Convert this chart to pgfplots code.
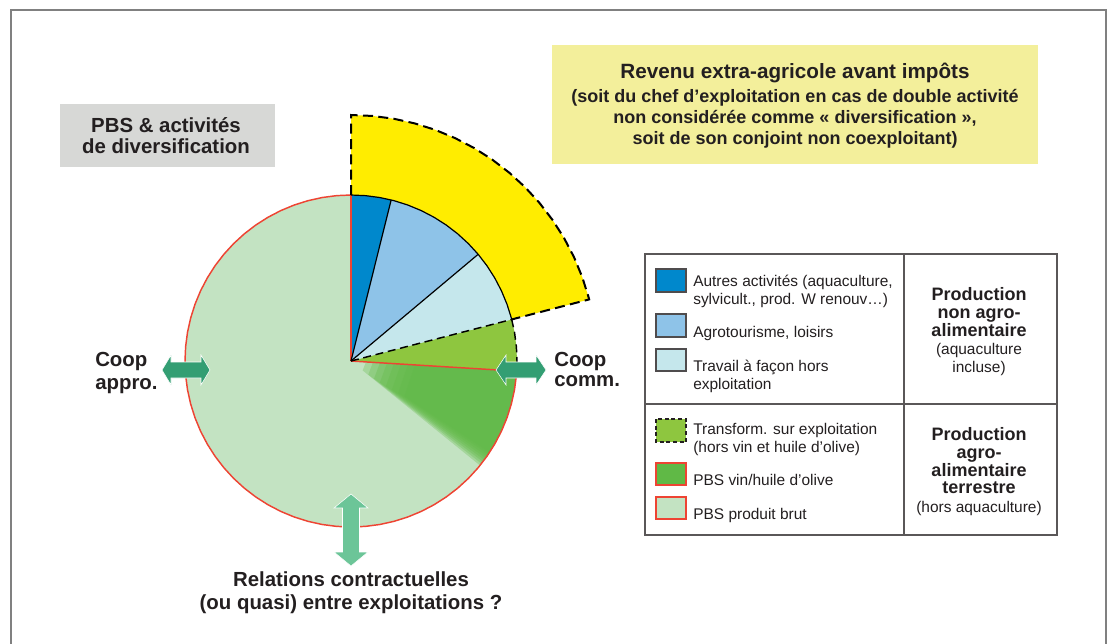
\documentclass[border=0pt]{standalone}
\usepackage{fontspec}
\setmainfont{Liberation Sans}
\usepackage{pgfplots}
\pgfplotsset{compat=1.18}
\definecolor{Ink}{HTML}{231F20}
\definecolor{Yel}{HTML}{FFED00}
\definecolor{YelBox}{HTML}{F3EF9B}
\definecolor{GrayBox}{HTML}{D7D8D6}
\definecolor{DBlue}{HTML}{0088CC}
\definecolor{LBlue}{HTML}{8EC3E8}
\definecolor{PBlue}{HTML}{C5E7EC}
\definecolor{TGreen}{HTML}{8EC63F}
\definecolor{DGreen}{HTML}{60B946}
\definecolor{PGreen}{HTML}{C3E3C2}
\definecolor{PRed}{HTML}{EE4433}
\definecolor{ArrowA}{HTML}{339E73}
\definecolor{ArrowB}{HTML}{6CC598}
\definecolor{Frame}{HTML}{808080}

\begin{document}
\begin{tikzpicture}
\begin{scope}[x=0.75pt,y=-0.75pt]
  \useasboundingbox (0,0) rectangle (1112,643);
  % frame
  \draw[Frame,line width=1.5pt] (11,645) -- (11,10) -- (1106,10) -- (1106,645);
  % title boxes
  \fill[GrayBox] (60,104) rectangle (275,167);
  \fill[YelBox] (552,45) rectangle (1038,164);
  \node[anchor=base,inner sep=0pt,text=Ink,font=\fontsize{15.3pt}{17pt}\selectfont\bfseries] at (166,132) {PBS \& activités};
  \node[anchor=base,inner sep=0pt,text=Ink,font=\fontsize{15.3pt}{17pt}\selectfont\bfseries] at (166,153) {de diversification};
  \node[anchor=base,inner sep=0pt,text=Ink,font=\fontsize{15.5pt}{17pt}\selectfont\bfseries] at (795,78) {Revenu extra-agricole avant impôts};
  \node[anchor=base,inner sep=0pt,text=Ink,font=\fontsize{13.5pt}{16pt}\selectfont\bfseries] at (795,102) {(soit du chef d’exploitation en cas de double activité};
  \node[anchor=base,inner sep=0pt,text=Ink,font=\fontsize{13.5pt}{16pt}\selectfont\bfseries] at (795,123) {non considérée comme « diversification »,};
  \node[anchor=base,inner sep=0pt,text=Ink,font=\fontsize{13.5pt}{16pt}\selectfont\bfseries] at (795,144) {soit de son conjoint non coexploitant)};
\end{scope}

\begin{axis}[at={(263.25pt,-270.75pt)},anchor=origin,
  x=0.75pt,y=0.75pt,xmin=-260,xmax=260,ymin=-260,ymax=260,
  hide axis,clip=false,data cs=polar]
% revenu extra-agricole (yellow sector)
\addplot[fill=Yel,draw=none] coordinates {(0,0) (90,246) (85,246) (80,246) (75,246) (70,246) (65,246) (60,246) (55,246) (50,246) (45,246) (40,246) (35,246) (30,246) (25,246) (20,246) (15,246) (14.5,246)};
% PBS produit brut (whole disc)
\addplot[fill=PGreen,draw=none] coordinates {(0,166) (5,166) (10,166) (15,166) (20,166) (25,166) (30,166) (35,166) (40,166) (45,166) (50,166) (55,166) (60,166) (65,166) (70,166) (75,166) (80,166) (85,166) (90,166) (95,166) (100,166) (105,166) (110,166) (115,166) (120,166) (125,166) (130,166) (135,166) (140,166) (145,166) (150,166) (155,166) (160,166) (165,166) (170,166) (175,166) (180,166) (185,166) (190,166) (195,166) (200,166) (205,166) (210,166) (215,166) (220,166) (225,166) (230,166) (235,166) (240,166) (245,166) (250,166) (255,166) (260,166) (265,166) (270,166) (275,166) (280,166) (285,166) (290,166) (295,166) (300,166) (305,166) (310,166) (315,166) (320,166) (325,166) (330,166) (335,166) (340,166) (345,166) (350,166) (355,166)};
% PBS vin / huile d'olive (soft edged: stacked translucent layers)
\addplot[fill=DGreen,draw=none,fill opacity=0.3] coordinates {(-3.5,15) (-3.5,166) (-5,166) (-10,166) (-15,166) (-20,166) (-25,166) (-30,166) (-35,166) (-39,166) (-39,15)};
\addplot[fill=DGreen,draw=none,fill opacity=0.3] coordinates {(-3.5,22) (-3.5,166) (-5,166) (-10,166) (-15,166) (-20,166) (-25,166) (-30,166) (-35,166) (-38.2,166) (-38.2,22)};
\addplot[fill=DGreen,draw=none,fill opacity=0.3] coordinates {(-3.5,29) (-3.5,166) (-5,166) (-10,166) (-15,166) (-20,166) (-25,166) (-30,166) (-35,166) (-37.4,166) (-37.4,29)};
\addplot[fill=DGreen,draw=none,fill opacity=0.3] coordinates {(-3.5,36) (-3.5,166) (-5,166) (-10,166) (-15,166) (-20,166) (-25,166) (-30,166) (-35,166) (-36.6,166) (-36.6,36)};
\addplot[fill=DGreen,draw=none,fill opacity=0.3] coordinates {(-3.5,43) (-3.5,166) (-5,166) (-10,166) (-15,166) (-20,166) (-25,166) (-30,166) (-35,166) (-35.8,166) (-35.8,43)};
\addplot[fill=DGreen,draw=none,fill opacity=0.3] coordinates {(-3.5,50) (-3.5,166) (-5,166) (-10,166) (-15,166) (-20,166) (-25,166) (-30,166) (-35,166) (-35,50)};
\addplot[fill=DGreen,draw=none,fill opacity=0.3] coordinates {(-3.5,57) (-3.5,166) (-5,166) (-10,166) (-15,166) (-20,166) (-25,166) (-30,166) (-34.2,166) (-34.2,57)};
\addplot[fill=DGreen,draw=none,fill opacity=0.3] coordinates {(-3.5,64) (-3.5,166) (-5,166) (-10,166) (-15,166) (-20,166) (-25,166) (-30,166) (-33.4,166) (-33.4,64)};
% transformation sur exploitation
\addplot[fill=TGreen,draw=none] coordinates {(0,0) (14.5,166) (10,166) (5,166) (0,166) (-3.5,166)};
% travail a facon
\addplot[fill=PBlue,draw=none] coordinates {(0,0) (40,166) (35,166) (30,166) (25,166) (20,166) (15,166) (14.5,166)};
% agrotourisme
\addplot[fill=LBlue,draw=none] coordinates {(0,0) (76,166) (75,166) (70,166) (65,166) (60,166) (55,166) (50,166) (45,166) (40,166)};
% autres activites
\addplot[fill=DBlue,draw=none] coordinates {(0,0) (90,166) (85,166) (80,166) (76,166)};
% outlines
\addplot[PRed,line width=1.1pt] coordinates {(90,166) (95,166) (100,166) (105,166) (110,166) (115,166) (120,166) (125,166) (130,166) (135,166) (140,166) (145,166) (150,166) (155,166) (160,166) (165,166) (170,166) (175,166) (180,166) (185,166) (190,166) (195,166) (200,166) (205,166) (210,166) (215,166) (220,166) (225,166) (230,166) (235,166) (240,166) (245,166) (250,166) (255,166) (260,166) (265,166) (270,166) (275,166) (280,166) (285,166) (290,166) (295,166) (300,166) (305,166) (310,166) (315,166) (320,166) (325,166) (330,166) (335,166) (340,166) (345,166) (350,166) (355,166) (356.5,166)};
\addplot[PRed,line width=1.1pt] coordinates {(90,0) (90,166)};
\addplot[PRed,line width=1.1pt] coordinates {(-3.5,0) (-3.5,166)};
\addplot[black,line width=0.9pt] coordinates {(90,166) (85,166) (80,166) (75,166) (70,166) (65,166) (60,166) (55,166) (50,166) (45,166) (40,166) (35,166) (30,166) (25,166) (20,166) (15,166) (14.5,166)};
\addplot[black,line width=0.9pt] coordinates {(76,0) (76,166)};
\addplot[black,line width=0.9pt] coordinates {(40,0) (40,166)};
\addplot[black,line width=1.1pt,dash pattern=on 6pt off 3.5pt] coordinates {(14.5,166) (10,166) (5,166) (0,166) (-3.5,166)};
\addplot[black,line width=1.1pt,dash pattern=on 6pt off 3.5pt] coordinates {(14.5,0) (14.5,166)};
\addplot[black,line width=1.5pt,dash pattern=on 7.5pt off 4pt] coordinates {(90,166) (90,246) (85,246) (80,246) (75,246) (70,246) (65,246) (60,246) (55,246) (50,246) (45,246) (40,246) (35,246) (30,246) (25,246) (20,246) (15,246) (14.5,246) (14.5,166)};
\end{axis}

\begin{scope}[x=0.75pt,y=-0.75pt,
  lab/.style={anchor=base west,inner sep=0pt,text=Ink,font=\fontsize{15.3pt}{17pt}\selectfont\bfseries},
  leg/.style={anchor=base west,inner sep=0pt,text=Ink,font=\fontsize{11.6pt}{13.5pt}\selectfont},
  hb/.style={anchor=base,inner sep=0pt,text=Ink,font=\fontsize{13.5pt}{13.5pt}\selectfont\bfseries},
  hn/.style={anchor=base,inner sep=0pt,text=Ink,font=\fontsize{11.6pt}{13.5pt}\selectfont}]
  % arrows
  \filldraw[fill=ArrowA,draw=white,line width=0.4pt] (162,370) -- (171,355) -- (171,362) -- (201,362) -- (201,355) -- (210,370) -- (201,385) -- (201,378) -- (171,378) -- (171,385) -- cycle;
  \filldraw[fill=ArrowA,draw=white,line width=0.4pt] (496,370) -- (506,355) -- (506,362) -- (536,362) -- (536,355) -- (546,370) -- (536,385) -- (536,378) -- (506,378) -- (506,385) -- cycle;
  \filldraw[fill=ArrowB,draw=white,line width=0.4pt] (351,494) -- (368,508) -- (359.5,508) -- (359.5,552) -- (368,552) -- (351,566) -- (334,552) -- (342.5,552) -- (342.5,508) -- (334,508) -- cycle;
  % labels
  \node[lab] at (95,366) {Coop};
  \node[lab] at (95,389) {appro.};
  \node[lab] at (554,366) {Coop};
  \node[lab] at (554,386) {comm.};
  \node[lab,anchor=base] at (351,586) {Relations contractuelles};
  \node[lab,anchor=base] at (351,609) {(ou quasi) entre exploitations ?};
  % legend box
  \draw[Ink!75,line width=0.8pt] (645,254) rectangle (1057,535);
  \draw[Ink!75,line width=0.8pt] (904,254) -- (904,535);
  \draw[Ink!75,line width=0.8pt] (645,404) -- (1057,404);
  \filldraw[fill=DBlue,draw=Ink!80,line width=0.8pt] (656,269) rectangle (686,292);
  \filldraw[fill=LBlue,draw=Ink!80,line width=0.8pt] (656,314) rectangle (686,337);
  \filldraw[fill=PBlue,draw=Ink!80,line width=0.8pt] (656,349) rectangle (686,371);
  \filldraw[fill=TGreen,draw=Ink,line width=0.8pt,dash pattern=on 3pt off 2pt] (656,419) rectangle (686,442);
  \filldraw[fill=DGreen,draw=PRed,line width=0.8pt] (656,463) rectangle (686,485);
  \filldraw[fill=PGreen,draw=PRed,line width=0.8pt] (656,497) rectangle (686,519);
  \node[leg] at (693,286) {Autres activités (aquaculture,};
  \node[leg] at (693,304) {sylvicult., prod. W renouv…)};
  \node[leg] at (693,337) {Agrotourisme, loisirs};
  \node[leg] at (693,371) {Travail à façon hors};
  \node[leg] at (693,389) {exploitation};
  \node[leg] at (693,434) {Transform. sur exploitation};
  \node[leg] at (693,452) {(hors vin et huile d’olive)};
  \node[leg] at (693,485) {PBS vin/huile d’olive};
  \node[leg] at (693,519) {PBS produit brut};
  \node[hb] at (979,300) {Production};
  \node[hb] at (979,318) {non agro-};
  \node[hb] at (979,336) {alimentaire};
  \node[hn] at (979,354) {(aquaculture};
  \node[hn] at (979,372) {incluse)};
  \node[hb] at (979,440) {Production};
  \node[hb] at (979,458) {agro-};
  \node[hb] at (979,476) {alimentaire};
  \node[hb] at (979,493) {terrestre};
  \node[hn] at (979,512) {(hors aquaculture)};
\end{scope}
\end{tikzpicture}
\end{document}
